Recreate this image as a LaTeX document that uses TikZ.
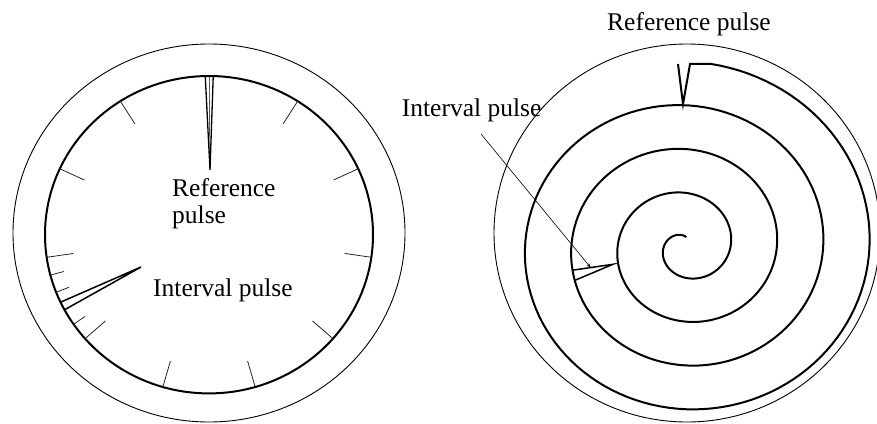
\documentclass[tikz,border=0pt]{standalone}
\usepackage{fontspec}
\setmainfont{Liberation Serif}
\usetikzlibrary{arrows.meta}
\begin{document}
\begin{tikzpicture}[x=1pt,y=-1pt,
  thinring/.style={line width=0.9pt},
  thickring/.style={line width=2.0pt},
  tickline/.style={line width=0.8pt, black!85},
  pulseline/.style={line width=1.5pt, line join=miter},
  spiralline/.style={line width=2.0pt, line join=miter},
  leader/.style={line width=0.6pt, -{Stealth[length=5pt,width=3pt]}},
  lbl/.style={inner sep=0pt, font=\fontsize{25.5}{26.7}\selectfont, anchor=base west}]
\useasboundingbox (0,0) rectangle (877,423);
% ---------- left dial ----------
\draw[thinring] (209,233) ellipse [x radius=196pt, y radius=189pt];
\draw[thickring] (209,234.7) ellipse [x radius=164pt, y radius=158.7pt];
% main ticks
\foreach \k in {1,...,10}{
  \pgfmathsetmacro{\a}{90-32.727*\k}
  \draw[tickline] ({209+164*cos(\a)},{234.7-158.7*sin(\a)}) -- ({209+137*cos(\a)},{234.7-131.7*sin(\a)});
}
% small ticks near interval pulse
\foreach \a in {194.73,201.27,214.36}{
  \draw[tickline] ({209+164*cos(\a)},{234.7-158.7*sin(\a)}) -- ({209+150*cos(\a)},{234.7-144.7*sin(\a)});
}
% reference pulse (left)
\coordinate (refTipL) at (210,170);
\draw[pulseline, line width=1.3pt] (205.3,77) -- (refTipL) -- (213.2,77);
\draw[line width=0.5pt] (209.3,77) -- (refTipL);
% interval pulse (left)
\coordinate (intTipL) at (141,267);
\draw[pulseline] (61,302) -- (intTipL) -- (65,309.5);
% labels (left)
\node[lbl, align=left] (refL) at (172,223.4) {Reference\\pulse};
\node[lbl] (intL) at (153,296.7) {Interval pulse};
% ---------- right spiral ----------
\draw[thinring] (687,233) ellipse [x radius=193pt, y radius=189pt];
\draw[spiralline] plot[domain=0.24:4.235, samples=500, variable=\t]
  ({685.7+46.3*(\t-0.03)*cos(360*\t)}, {246.3-43.8*(\t-0.03)*sin(360*\t)})
  -- (690,64) -- (683,104) -- (678,64);
% interval pulse (right)
\coordinate (intTipR) at (613,264.3);
\draw[pulseline] (572.5,270.2) -- (intTipR) -- (574.7,280.4);
% labels (right)
\node[lbl] (refR) at (607,30) {Reference pulse};
\node[lbl] (intR) at (401.7,116.7) {Interval pulse};
\coordinate (leadStart) at (481,134);
\coordinate (leadEnd) at (591,268);
\draw[leader] (leadStart) -- (leadEnd);
\end{tikzpicture}
\end{document}
